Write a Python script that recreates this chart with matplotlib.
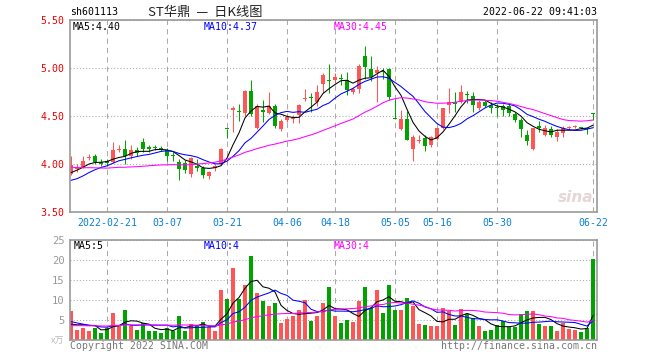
import numpy as np
import pandas as pd
import matplotlib
matplotlib.use('Agg')
import matplotlib.pyplot as plt

# ST华鼎 (sh601113) daily bars, 2022-02-11 .. 2022-06-22, 88 trading days
opens = [3.90, 3.95, 3.97, 4.06, 4.08, 4.02, 4.03, 4.02, 4.15, 4.16,
         4.08, 4.15, 4.23, 4.18, 4.18, 4.17, 4.15, 4.09, 4.02, 4.01,
         3.90, 3.98, 3.96, 3.87, 3.96, 4.00, 4.365, 4.56, 4.55, 4.53,
         4.76, 4.37, 4.56, 4.53, 4.60, 4.36, 4.46, 4.47, 4.51, 4.68,
         4.70, 4.65, 4.83, 4.87, 4.87, 4.90, 4.88, 4.75, 4.78, 5.12,
         4.99, 4.95, 4.97, 4.99, 4.48, 4.36, 4.47, 4.16, 4.24, 4.27,
         4.20, 4.26, 4.37, 4.61, 4.64, 4.65, 4.73, 4.71, 4.58, 4.65,
         4.61, 4.59, 4.60, 4.60, 4.52, 4.46, 4.30, 4.16, 4.39, 4.30,
         4.36, 4.28, 4.32, 4.375, 4.385, 4.375, 4.365, 4.525]
highs = [4.08, 4.00, 4.08, 4.10, 4.10, 4.05, 4.05, 4.23, 4.20, 4.25,
         4.20, 4.18, 4.27, 4.20, 4.20, 4.19, 4.17, 4.12, 4.05, 4.04,
         4.07, 4.05, 3.98, 3.93, 4.00, 4.17, 4.365, 4.60, 4.63, 4.77,
         4.88, 4.62, 4.67, 4.75, 4.63, 4.47, 4.51, 4.51, 4.63, 4.78,
         4.74, 4.82, 4.95, 5.04, 4.95, 4.94, 4.96, 4.80, 5.04, 5.23,
         5.12, 5.02, 5.00, 5.00, 4.68, 4.56, 4.55, 4.30, 4.30, 4.30,
         4.29, 4.38, 4.58, 4.79, 4.75, 4.82, 4.76, 4.75, 4.67, 4.67,
         4.65, 4.62, 4.63, 4.62, 4.54, 4.48, 4.35, 4.38, 4.45, 4.41,
         4.40, 4.36, 4.40, 4.40, 4.41, 4.39, 4.38, 4.53]
lows = [3.89, 3.92, 3.96, 4.04, 4.00, 3.98, 3.98, 4.01, 4.12, 4.00,
        4.05, 4.08, 4.13, 4.12, 4.15, 4.14, 4.03, 4.03, 3.83, 3.91,
        3.86, 3.93, 3.85, 3.84, 3.93, 3.99, 4.27, 4.33, 4.45, 4.50,
        4.50, 4.36, 4.44, 4.52, 4.37, 4.34, 4.44, 4.43, 4.43, 4.66,
        4.545, 4.60, 4.74, 4.74, 4.84, 4.82, 4.72, 4.73, 4.74, 4.89,
        4.86, 4.65, 4.89, 4.67, 4.47, 4.35, 4.25, 4.03, 4.22, 4.14,
        4.18, 4.25, 4.36, 4.535, 4.545, 4.64, 4.64, 4.54, 4.56, 4.59,
        4.53, 4.50, 4.50, 4.50, 4.44, 4.28, 4.20, 4.15, 4.33, 4.29,
        4.28, 4.24, 4.28, 4.35, 4.37, 4.36, 4.31, 4.46]
closes = [3.99, 3.97, 4.03, 4.07, 4.02, 4.00, 4.01, 4.15, 4.16, 4.08,
          4.15, 4.11, 4.16, 4.16, 4.17, 4.16, 4.08, 4.08, 3.95, 3.94,
          4.06, 3.96, 3.89, 3.92, 3.98, 4.16, 4.36, 4.58, 4.54, 4.76,
          4.52, 4.60, 4.54, 4.60, 4.40, 4.45, 4.49, 4.48, 4.61, 4.69,
          4.69, 4.75, 4.93, 4.86, 4.91, 4.89, 4.77, 4.78, 5.02, 5.01,
          4.91, 4.98, 4.96, 4.70, 4.47, 4.47, 4.25, 4.28, 4.25, 4.19,
          4.28, 4.37, 4.58, 4.65, 4.63, 4.75, 4.72, 4.61, 4.65, 4.60,
          4.58, 4.58, 4.56, 4.535, 4.46, 4.36, 4.24, 4.37, 4.38, 4.38,
          4.30, 4.33, 4.37, 4.38, 4.39, 4.37, 4.36, 4.52]
# volume in 万手
volume = [7.25, 2.5, 3.1, 2.25, 3.1, 1.7, 2.9, 6.7, 3.5, 7.5,
          3.4, 2.5, 4.2, 2.25, 2.25, 1.8, 3.1, 2.25, 6.0, 2.25,
          3.9, 3.5, 4.4, 3.3, 2.25, 12.5, 10.25, 17.9, 10.25, 13.75,
          21.0, 11.7, 9.75, 8.5, 9.2, 4.2, 5.25, 6.0, 7.5, 10.0,
          4.8, 6.0, 9.2, 13.2, 6.0, 4.3, 5.0, 4.5, 9.75, 13.2,
          7.9, 12.5, 6.7, 13.75, 7.5, 7.5, 10.4, 8.5, 4.0, 3.75,
          3.4, 3.6, 7.9, 7.25, 3.75, 7.75, 6.6, 5.4, 3.4, 2.25,
          2.5, 3.75, 4.8, 3.3, 3.3, 6.4, 7.25, 7.25, 4.0, 3.4,
          3.6, 2.25, 4.2, 2.75, 2.5, 2.0, 2.9, 20.25]

# history before the window, only used to seed the moving averages
prev_close = [4.10, 4.08, 4.06, 4.05, 4.07, 4.04, 4.02, 4.03, 4.05, 4.06,
              4.04, 4.02, 4.01, 4.03, 4.05, 4.04, 4.02, 4.00, 3.98, 3.96,
              3.80, 3.74, 3.72, 3.73, 3.76, 3.84, 3.88, 3.90, 3.94]
prev_vol = [3.2, 2.9, 3.4, 3.0, 2.8, 3.3, 3.1, 2.9, 3.2, 3.0,
            3.4, 3.1, 2.8, 3.0, 3.3, 3.2, 2.9, 3.1, 3.2, 3.2,
            5.8, 6.1, 4.9, 4.6, 4.6, 3.5, 3.0, 3.2, 3.05]

tick_idx = [6, 16, 26, 36, 44, 54, 61, 71, 87]
tick_lbl = ['2022-02-21', '03-07', '03-21', '04-06', '04-18',
            '05-05', '05-16', '05-30', '06-22']

RED = '#ff5555'
GREEN = '#00a300'
GRID = '#aaaaaa'
FRAME = '#999999'
MONO = 'DejaVu Sans Mono'
CJK = ['Noto Sans CJK SC', 'DejaVu Sans']
FS = 7.1
LW = 0.75  # about one pixel
W, H = 660, 360


def moving_avg(prev, vals, n):
    s = pd.Series(list(prev) + list(vals))
    return s.rolling(n).mean().to_numpy()[len(prev):]


def fx(px):
    return px / W


def fy(py):
    return 1 - py / H


def style_axes(ax):
    for sp in ax.spines.values():
        sp.set_color(FRAME)
        sp.set_linewidth(1.2)
    ax.set_xlim(-0.17, 87.67)
    ax.set_xticks(tick_idx)
    ax.tick_params(length=0)
    ax.xaxis.grid(True, ls=(0, (5, 4)), color=GRID, lw=LW)
    ax.yaxis.grid(True, ls=(0, (1, 2)), color=GRID, lw=LW)
    ax.set_axisbelow(True)


def main():
    o = np.array(opens)
    h = np.array(highs)
    l = np.array(lows)
    c = np.array(closes)
    v = np.array(volume)
    x = np.arange(len(c))
    cols = [RED if cc > oo else GREEN for oo, cc in zip(o, c)]

    fig = plt.figure(figsize=(W / 100, H / 100), dpi=100)
    ax = fig.add_axes([fx(70), fy(212), fx(527), 192 / H])
    axv = fig.add_axes([fx(70), fy(340), fx(527), 100 / H])

    # price panel
    ax.vlines(x, l, h, colors=cols, lw=LW)
    ax.bar(x, np.maximum(np.abs(c - o), 0.011), bottom=np.minimum(o, c),
           width=0.8, color=cols, lw=0)
    ax.plot(x, moving_avg(prev_close, c, 5), color='black', lw=LW)
    ax.plot(x, moving_avg(prev_close, c, 10), color='#0000ff', lw=LW)
    ax.plot(x, moving_avg(prev_close, c, 30), color='#ff00ff', lw=LW)
    style_axes(ax)
    ax.set_ylim(3.5, 5.5)
    ax.set_yticks([3.5, 4.0, 4.5, 5.0, 5.5])
    ax.set_yticklabels(['%.2f' % t for t in [3.5, 4.0, 4.5, 5.0, 5.5]],
                       color='#ee0000', family=MONO, fontsize=FS)
    ax.set_xticklabels(tick_lbl, color='#0a7fd0', family=MONO, fontsize=FS)
    ax.tick_params(axis='x', pad=4)
    ax.tick_params(axis='y', pad=4)

    # volume panel
    axv.bar(x, v, width=0.8, color=cols, lw=0)
    axv.plot(x, moving_avg(prev_vol, v, 5), color='black', lw=LW)
    axv.plot(x, moving_avg(prev_vol, v, 10), color='#0000ff', lw=LW)
    axv.plot(x, moving_avg(prev_vol, v, 30), color='#ff00ff', lw=LW)
    style_axes(axv)
    axv.set_ylim(0, 25)
    axv.set_yticks([5, 10, 15, 20, 25])
    axv.set_yticklabels(['5', '10', '15', '20', '25'], color='#999999',
                        family=MONO, fontsize=FS + 0.5)
    axv.set_xticklabels([])
    axv.tick_params(axis='y', pad=4)

    # header and labels
    fig.text(fx(70), fy(12), 'sh601113', family=MONO, fontsize=FS, va='center')
    fig.text(fx(205), fy(12), 'ST华鼎  —  日K线图', family=CJK, fontsize=9.5,
             ha='center', va='center', color='#222222')
    fig.text(fx(597), fy(12), '2022-06-22 09:41:03', family=MONO, fontsize=FS,
             ha='right', va='center')
    for px, txt, col in [(73, 'MA5:4.40', 'black'), (204, 'MA10:4.37', '#0000ff'),
                         (334, 'MA30:4.45', '#ff00ff')]:
        fig.text(fx(px), fy(27), txt, family=MONO, fontsize=FS, color=col, va='center')
    for px, txt, col in [(74, 'MA5:5', 'black'), (204, 'MA10:4', '#0000ff'),
                         (334, 'MA30:4', '#ff00ff')]:
        fig.text(fx(px), fy(246), txt, family=MONO, fontsize=FS, color=col, va='center')
    fig.text(fx(64), fy(341), 'x万', family=CJK, fontsize=6.5, color='#bbbbbb',
             ha='right', va='center')
    fig.text(fx(70), fy(346), 'Copyright 2022 SINA.COM', family=MONO, fontsize=FS,
             color='#777777', va='center')
    fig.text(fx(597), fy(346), 'http://finance.sina.com.cn', family=MONO,
             fontsize=FS, color='#777777', ha='right', va='center')
    fig.text(fx(576), fy(197), 'sina', fontsize=11, style='italic', weight='bold',
             color='#e6d6d6', ha='center', va='center')

    fig.savefig('out.png', dpi=100, facecolor='white')


if __name__ == '__main__':
    main()
